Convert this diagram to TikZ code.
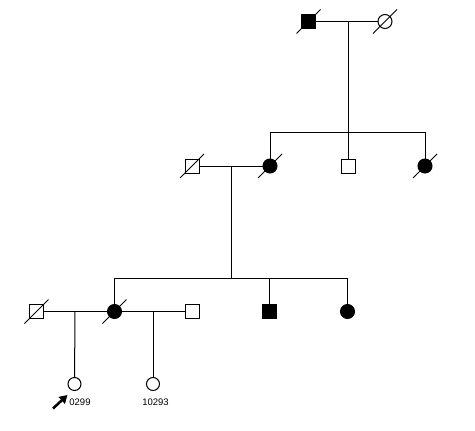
\documentclass[tikz,border=0pt]{standalone}
\usepackage{fontspec}
\setmainfont{Liberation Sans}
\usetikzlibrary{arrows.meta,calc}
\begin{document}
\begin{tikzpicture}[x=1pt,y=-1pt,line width=1pt,
  male/.style={draw,rectangle,minimum size=14pt,inner sep=0pt,fill=white},
  female/.style={draw,circle,minimum size=14pt,inner sep=0pt,fill=white},
  aff/.style={fill=black},
  lbl/.style={font=\fontsize{9.5}{10}\selectfont,inner sep=0pt},
  deceased/.style={line width=0.9pt}]
\useasboundingbox (0,0) rectangle (475,431);
% generation 1
\node[male,aff] (g1m) at (308.5,21.5) {};
\node[female] (g1f) at (385,21.5) {};
% generation 2
\node[male] (g2m) at (192,166) {};
\node[female,aff] (g2a) at (270,166) {};
\node[male] (g2b) at (348,166) {};
\node[female,aff] (g2c) at (425,166) {};
% generation 3
\node[male] (g3m) at (36.5,311.5) {};
\node[female,aff] (g3a) at (114.5,311.5) {};
\node[male] (g3b) at (192.5,311.5) {};
\node[male,aff] (g3c) at (269.5,311.5) {};
\node[female,aff] (g3d) at (347.5,311.5) {};
% generation 4
\node[female,minimum size=13pt] (g4a) at (74.5,384) {};
\node[female,minimum size=13pt] (g4b) at (153,384) {};
% coordinates
\coordinate (c1) at (348,21.5);
\coordinate (s1) at (348,132);
\coordinate (s1l) at (270,132);
\coordinate (s1r) at (425,132);
\coordinate (c2) at (231.5,166);
\coordinate (s2) at (231.5,278);
\coordinate (s2l) at (114.5,278);
\coordinate (s2c) at (269.5,278);
\coordinate (s2r) at (347.5,278);
\coordinate (c3) at (75,311.5);
\coordinate (c4) at (153,311.5);
% lines
\draw (g1m) -- (g1f);
\draw (c1) -- (s1);
\draw (s1l) -- (s1r);
\draw (s1l) -- (g2a);
\draw (s1) -- (g2b);
\draw (s1r) -- (g2c);
\draw (g2m) -- (g2a);
\draw (c2) -- (s2);
\draw (s2l) -- (s2r);
\draw (s2l) -- (g3a);
\draw (s2c) -- (g3c);
\draw (s2r) -- (g3d);
\draw (g3m) -- (g3a);
\draw (g3a) -- (g3b);
\draw (c3) -- (g4a);
\draw (c4) -- (g4b);
% deceased slashes
\foreach \n in {g1m,g1f,g2m,g2a,g2c,g3m,g3a}
  \draw[deceased] ($(\n)+(-12,12)$) -- ($(\n)+(12,-12)$);
% labels
\node[lbl] (l1) at (80,402) {0299};
\node[lbl] (l2) at (155.5,402) {10293};
\coordinate (ar) at (53,408.5);
\draw[line width=2.5pt,-{Triangle[length=8pt,width=9pt]}] (ar) -- (67.5,395);
\end{tikzpicture}
\end{document}
